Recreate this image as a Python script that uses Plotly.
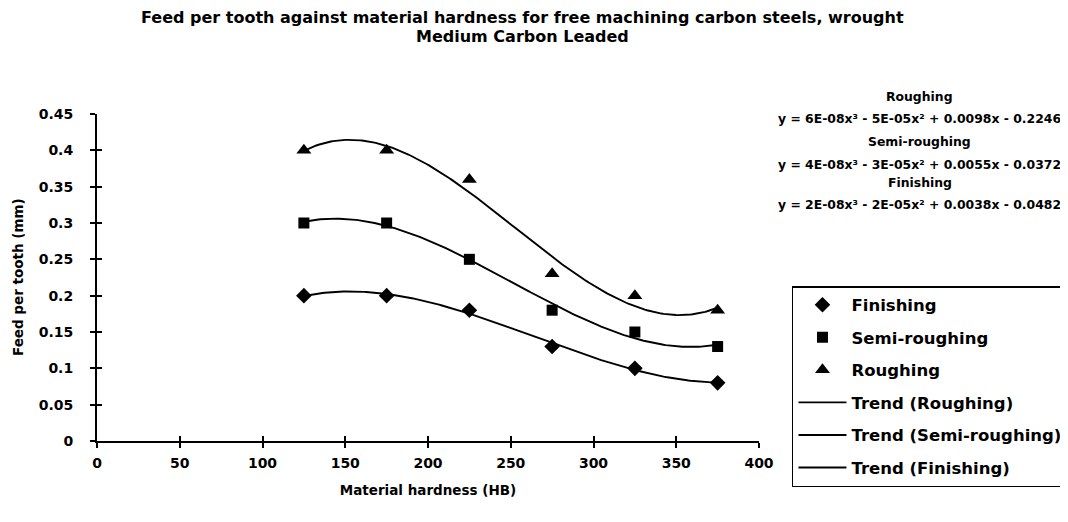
import numpy as np
import plotly.graph_objects as go

hardness = [125, 175, 225, 275, 325, 375]
finishing = [0.20, 0.20, 0.18, 0.13, 0.10, 0.08]
semi_roughing = [0.30, 0.30, 0.25, 0.18, 0.15, 0.13]
roughing = [0.40, 0.40, 0.36, 0.23, 0.20, 0.18]

title_lines = ["Feed per tooth against material hardness for free machining carbon steels, wrought",
               "Medium Carbon Leaded"]
x_title = "Material hardness (HB)"
y_title = "Feed per tooth (mm)"
eq_labels = ["Roughing", "y = 6E-08x³ - 5E-05x² + 0.0098x - 0.2246",
             "Semi-roughing", "y = 4E-08x³ - 3E-05x² + 0.0055x - 0.0372",
             "Finishing", "y = 2E-08x³ - 2E-05x² + 0.0038x - 0.0482"]

FONT = "DejaVu Sans, Verdana, sans-serif"

fig = go.Figure()

markers = [("Finishing", finishing, "diamond", 12),
           ("Semi-roughing", semi_roughing, "square", 11),
           ("Roughing", roughing, "triangle-up", 13)]
for i, (name, ys, sym, sz) in enumerate(markers):
    fig.add_trace(go.Scatter(x=hardness, y=ys, mode="markers", name="<b>%s</b>" % name,
                             legendgroup="g%d" % i,
                             marker=dict(symbol=sym, size=sz, color="black")))

xs = np.linspace(min(hardness), max(hardness), 200)
trends = [("Trend (Roughing)", roughing), ("Trend (Semi-roughing)", semi_roughing),
          ("Trend (Finishing)", finishing)]
for j, (name, ys) in enumerate(trends):
    c = np.polyfit(hardness, ys, 3)
    fig.add_trace(go.Scatter(x=xs, y=np.polyval(c, xs), mode="lines", name="<b>%s</b>" % name,
                             legendgroup="t%d" % j,
                             line=dict(color="black", width=1.9)))

# overlay axes to produce crossing ticks
fig.add_trace(go.Scatter(x=[0], y=[0], xaxis="x2", yaxis="y2", mode="markers",
                         marker=dict(opacity=0), showlegend=False, hoverinfo="skip"))

tick_font = dict(family=FONT, size=14, color="black")
title_font = dict(family=FONT, size=13.5, color="black")
fig.update_layout(
    width=1060, height=514,
    paper_bgcolor="white", plot_bgcolor="white",
    margin=dict(l=89, r=309, t=106, b=81),
    font=dict(family=FONT, color="black"),
    xaxis=dict(range=[0, 400], dtick=50, showline=True, linecolor="black", linewidth=2,
               ticks="outside", ticklen=5, tickwidth=1.5, tickcolor="black",
               showgrid=False, zeroline=False, tickfont=tick_font, ticklabelstandoff=3,
               tickprefix="<b>", ticksuffix="</b>",
               title=dict(text="<b>%s</b>" % x_title, font=title_font, standoff=16)),
    yaxis=dict(range=[0, 0.45], dtick=0.05, showline=True, linecolor="black", linewidth=2,
               ticks="outside", ticklen=5, tickwidth=1.5, tickcolor="black",
               showgrid=False, zeroline=False, tickfont=tick_font, ticklabelstandoff=14,
               tickprefix="<b>", ticksuffix="</b>"),
    xaxis2=dict(overlaying="x", matches="x", ticks="inside", ticklen=5, tickwidth=1.5,
                tickcolor="black", showticklabels=False, showgrid=False, zeroline=False,
                showline=False, dtick=50, side="bottom"),
    yaxis2=dict(overlaying="y", matches="y", ticks="inside", ticklen=5, tickwidth=1.5,
                tickcolor="black", showticklabels=False, showgrid=False, zeroline=False,
                showline=False, dtick=0.05, side="left"),
    legend=dict(x=0.7396, xref="container", xanchor="left",
                y=0.4591, yref="container", yanchor="top",
                bordercolor="black", borderwidth=1.5, bgcolor="white",
                traceorder="grouped", tracegroupgap=8.1, itemwidth=48,
                font=dict(family=FONT, size=16.5, color="black")),
    showlegend=True,
)

fig.add_annotation(text="<b>%s</b>" % y_title, x=-0.1193, y=0.5015, xref="paper", yref="paper",
                   xanchor="center", yanchor="middle", textangle=-90, showarrow=False,
                   font=title_font)

for text, yy in zip(title_lines, [1.2936, 1.237]):
    fig.add_annotation(text="<b>%s</b>" % text, x=0.6435, y=yy, xref="paper", yref="paper",
                       xanchor="center", yanchor="middle", showarrow=False,
                       font=dict(family=FONT, size=16, color="black"))

eq_y = [1.052, 0.985, 0.917, 0.847, 0.792, 0.722]
for text, yy in zip(eq_labels, eq_y):
    fig.add_annotation(text="<b>%s</b>" % text, x=1.243, y=yy, xref="paper", yref="paper",
                       xanchor="center", yanchor="middle", showarrow=False,
                       font=dict(family=FONT, size=12.4, color="black"))

fig.write_html("out.html")
